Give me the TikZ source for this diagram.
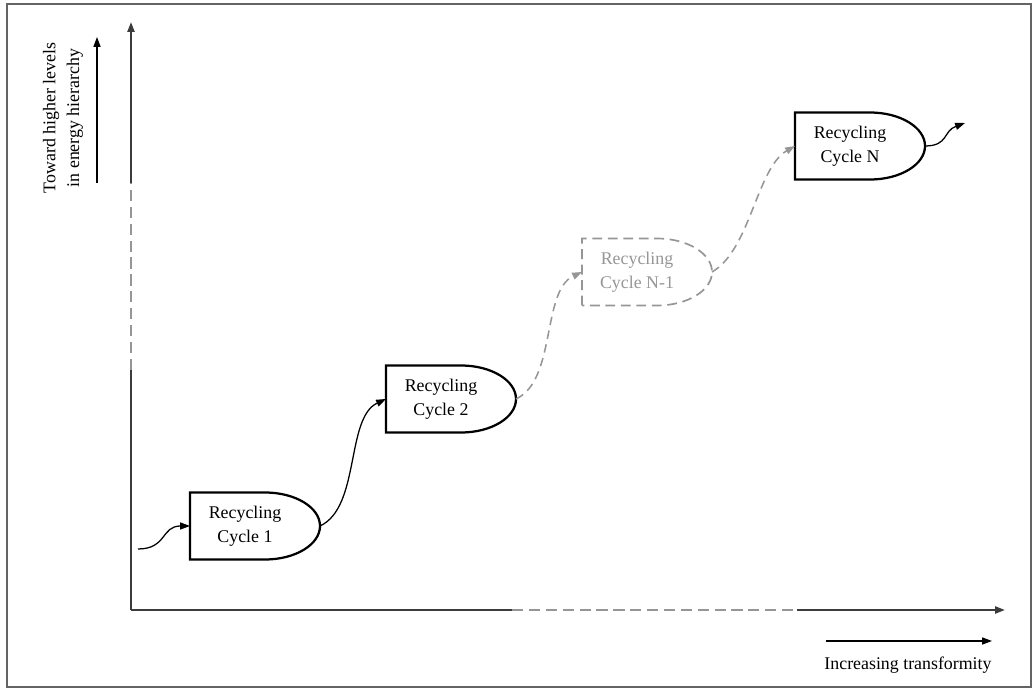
\documentclass[tikz,border=0pt]{standalone}
\usepackage{fontspec}
\setmainfont{Liberation Serif}
\usepackage{tikz}
\usetikzlibrary{arrows.meta}
\definecolor{axisgray}{RGB}{60,60,60}
\definecolor{fadegray}{RGB}{150,150,150}
\definecolor{framegray}{RGB}{100,100,100}

\begin{document}
\begin{tikzpicture}[x=0.025cm, y=0.025cm,
		>={Triangle[length=7pt,width=5pt]},
		every node/.style={font=\fontsize{12.7}{17}\selectfont},
		cyctext/.style={align=center, inner sep=0pt},
		solidbox/.style={line width=1.6pt, black},
		fadebox/.style={line width=1.2pt, fadegray, dash pattern=on 7pt off 4pt},
		flow/.style={->, line width=0.9pt, black},
		fadeflow/.style={->, line width=1.1pt, fadegray, dash pattern=on 6pt off 4pt},
		axis/.style={line width=1.4pt, axisgray},
		fadeaxis/.style={line width=1.4pt, fadegray, dash pattern=on 8pt off 4pt}]
		\useasboundingbox (0,0) rectangle (1033,689);
		\draw[framegray, line width=1.2pt] (7,2) rectangle (1031,685);

		\coordinate (O) at (131,79);
		\coordinate (Ya) at (131,319);
		\coordinate (Yb) at (131,506);
		\coordinate (Ytop) at (131,667);
		\coordinate (Xa) at (512,79);
		\coordinate (Xb) at (797,79);
		\coordinate (Xend) at (1005,79);

		\draw[axis] (O) -- (Ya);
		\draw[fadeaxis] (Ya) -- (Yb);
		\draw[axis, ->] (Yb) -- (Ytop);
		\draw[axis] (O) -- (Xa);
		\draw[fadeaxis] (Xa) -- (Xb);
		\draw[axis, ->] (Xb) -- (Xend);

		\coordinate (up0) at (97,506);
		\coordinate (up1) at (97,652);
		\draw[flow] (up0) -- (up1);
		\node[rotate=90, align=center] (ylabel) at (63,571) {Toward higher levels\\in energy hierarchy};

		\coordinate (right0) at (826,48);
		\coordinate (right1) at (992,48);
		\draw[flow] (right0) -- (right1);
		\node (xlabel) at (908,24) {Increasing transformity};

		\foreach \i/\x/\y/\s/\t in {1/245/163/solidbox/1, 2/441/290/solidbox/2, 3/637/417/fadebox/N-1, 4/850/543/solidbox/N}
		{
			\node[cyctext, \s] (c\i) at (\x,\y) {Recycling\\Cycle \t};
			\draw[\s] ([shift={(-55,-33.5)}]c\i.center) -- ++(0,67) -- ++(75,0)
				arc[start angle=90, end angle=-90, x radius=1.375cm, y radius=0.8375cm] -- cycle;
			\coordinate (in\i) at ([xshift=-1.375cm]c\i.center);
			\coordinate (out\i) at ([xshift=1.875cm]c\i.center);
		}

		\coordinate (start) at (138,140);
		\coordinate (finish) at (965,566);

		\draw[flow] (start) to[out=0, in=180, looseness=1.3] (in1);
		\draw[flow] (out1) to[out=25, in=205, looseness=0.8] (in2);
		\draw[fadeflow] (out2) to[out=25, in=205, looseness=0.8] (in3);
		\draw[fadeflow] (out3) to[out=30, in=210, looseness=0.75] (in4);
		\draw[flow] (out4) to[out=0, in=200, looseness=1.3] (finish);
\end{tikzpicture}
\end{document}
